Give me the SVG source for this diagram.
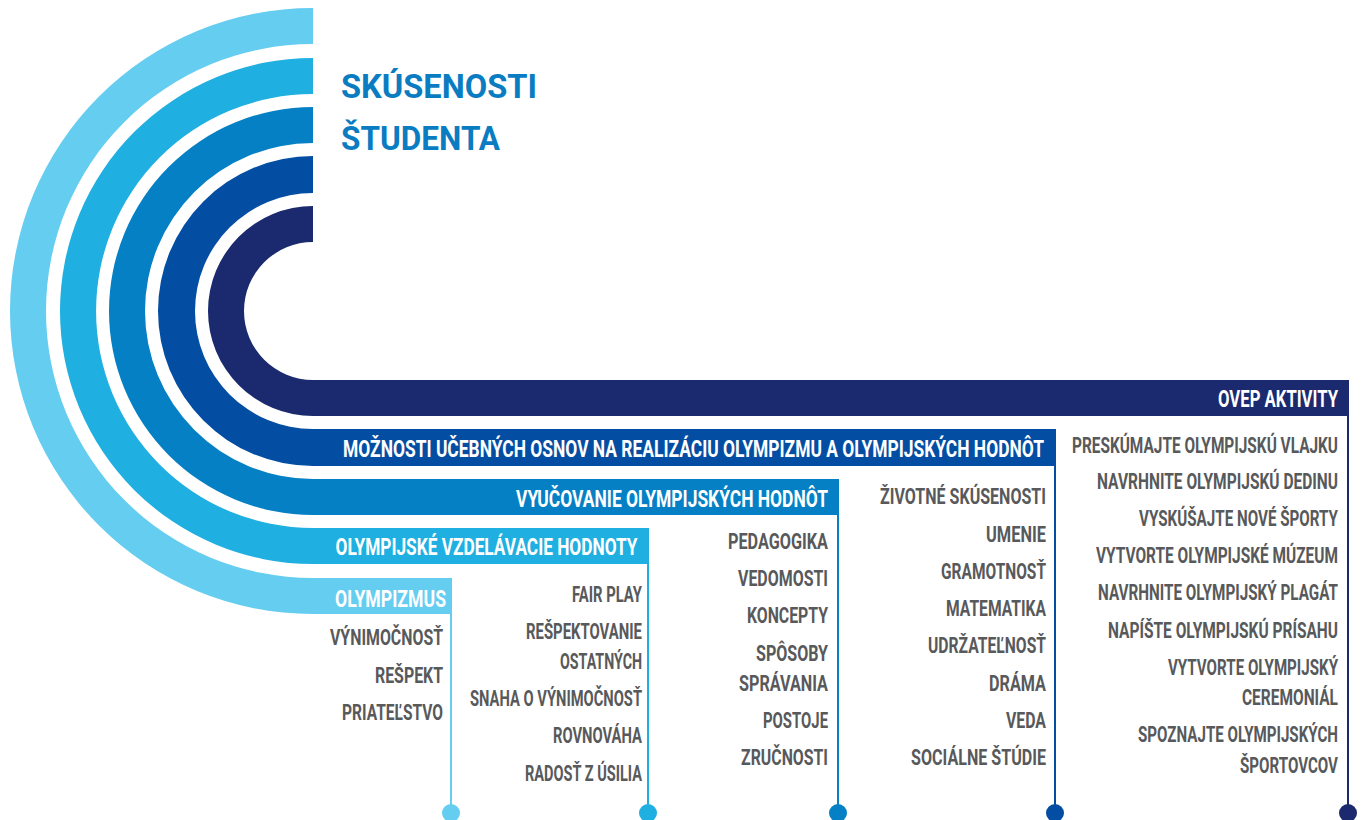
<svg xmlns="http://www.w3.org/2000/svg" width="1362" height="820" viewBox="0 0 1362 820">
  <style>
    .lbl { font-family: Roboto, "Liberation Sans", sans-serif; font-weight: 700; font-size: 23.5px; fill: #ffffff; text-anchor: end; }
    .item { font-family: Roboto, "Liberation Sans", sans-serif; font-weight: 700; font-size: 21.5px; fill: #58595b; text-anchor: end; }
    .title { font-family: Roboto, "Liberation Sans", sans-serif; font-weight: 700; font-size: 33px; fill: #0a7cc1; }
    .c1 { fill: #64cdf0; } .c2 { fill: #1fafe0; } .c3 { fill: #0580c4; } .c4 { fill: #034ea2; } .c5 { fill: #1b2a6e; }
    .s1 { stroke: #64cdf0; } .s2 { stroke: #1fafe0; } .s3 { stroke: #0580c4; } .s4 { stroke: #034ea2; } .s5 { stroke: #1b2a6e; }
    .conn line { stroke-width: 2; }
  </style>

  <!-- title -->
  <g id="title">
    <text class="title" x="341" y="98" textLength="196" lengthAdjust="spacingAndGlyphs">SKÚSENOSTI</text>
    <text class="title" x="341" y="150" textLength="159" lengthAdjust="spacingAndGlyphs">ŠTUDENTA</text>
  </g>

  <!-- drop lines and end dots, one per band -->
  <g id="connectors" class="conn">
    <line class="s1" x1="451" y1="612" x2="451" y2="813"/>
    <circle class="c1" cx="451" cy="813" r="9"/>
    <line class="s2" x1="648" y1="562" x2="648" y2="813"/>
    <circle class="c2" cx="648" cy="813" r="9"/>
    <line class="s3" x1="838" y1="513" x2="838" y2="813"/>
    <circle class="c3" cx="838" cy="813" r="9"/>
    <line class="s4" x1="1055" y1="464" x2="1055" y2="813"/>
    <circle class="c4" cx="1055" cy="813" r="9"/>
    <line class="s5" x1="1348" y1="414" x2="1348" y2="813"/>
    <circle class="c5" cx="1348" cy="813" r="9"/>
  </g>

  <!-- band 1: olympism -->
  <g id="olympizmus">
    <path class="c1" d="M313 8 A303 303 0 0 0 313 614 H452 V578 H313 A267 267 0 0 1 313 44 Z"/>
    <text class="lbl" x="446" y="607" textLength="111" lengthAdjust="spacingAndGlyphs">OLYMPIZMUS</text>
    <text class="item" x="443" y="645" textLength="113" lengthAdjust="spacingAndGlyphs">VÝNIMOČNOSŤ</text>
    <text class="item" x="443" y="682.5" textLength="68" lengthAdjust="spacingAndGlyphs">REŠPEKT</text>
    <text class="item" x="443" y="720" textLength="101" lengthAdjust="spacingAndGlyphs">PRIATEĽSTVO</text>
  </g>

  <!-- band 2: olympic education values -->
  <g id="vzdelavacie-hodnoty">
    <path class="c2" d="M313 58 A253 253 0 0 0 313 564 H649 V528 H313 A217 217 0 0 1 313 94 Z"/>
    <text class="lbl" x="637.5" y="555" textLength="302" lengthAdjust="spacingAndGlyphs">OLYMPIJSKÉ VZDELÁVACIE HODNOTY</text>
    <text class="item" x="642" y="602" textLength="70" lengthAdjust="spacingAndGlyphs">FAIR PLAY</text>
    <text class="item" x="642" y="638.5" textLength="116" lengthAdjust="spacingAndGlyphs">REŠPEKTOVANIE</text>
    <text class="item" x="642" y="668.5" textLength="82" lengthAdjust="spacingAndGlyphs">OSTATNÝCH</text>
    <text class="item" x="642" y="706" textLength="172" lengthAdjust="spacingAndGlyphs">SNAHA O VÝNIMOČNOSŤ</text>
    <text class="item" x="642" y="743" textLength="89" lengthAdjust="spacingAndGlyphs">ROVNOVÁHA</text>
    <text class="item" x="642" y="781" textLength="117" lengthAdjust="spacingAndGlyphs">RADOSŤ Z ÚSILIA</text>
  </g>

  <!-- band 3: teaching olympic values -->
  <g id="vyucovanie">
    <path class="c3" d="M313 107 A204 204 0 0 0 313 515 H839 V479 H313 A168 168 0 0 1 313 143 Z"/>
    <text class="lbl" x="828" y="506.5" textLength="312" lengthAdjust="spacingAndGlyphs">VYUČOVANIE OLYMPIJSKÝCH HODNÔT</text>
    <text class="item" x="828" y="549" textLength="100" lengthAdjust="spacingAndGlyphs">PEDAGOGIKA</text>
    <text class="item" x="828" y="586" textLength="90" lengthAdjust="spacingAndGlyphs">VEDOMOSTI</text>
    <text class="item" x="828" y="623" textLength="81" lengthAdjust="spacingAndGlyphs">KONCEPTY</text>
    <text class="item" x="828" y="660.5" textLength="72" lengthAdjust="spacingAndGlyphs">SPÔSOBY</text>
    <text class="item" x="828" y="690.5" textLength="89" lengthAdjust="spacingAndGlyphs">SPRÁVANIA</text>
    <text class="item" x="828" y="728" textLength="65" lengthAdjust="spacingAndGlyphs">POSTOJE</text>
    <text class="item" x="828" y="765" textLength="87" lengthAdjust="spacingAndGlyphs">ZRUČNOSTI</text>
  </g>

  <!-- band 4: curriculum opportunities -->
  <g id="moznosti-osnov">
    <path class="c4" d="M313 156 A155 155 0 0 0 313 466 H1056 V429 H313 A118 118 0 0 1 313 193 Z"/>
    <text class="lbl" x="1044" y="457" textLength="701" lengthAdjust="spacingAndGlyphs">MOŽNOSTI UČEBNÝCH OSNOV NA REALIZÁCIU OLYMPIZMU A OLYMPIJSKÝCH HODNÔT</text>
    <text class="item" x="1046" y="504" textLength="166" lengthAdjust="spacingAndGlyphs">ŽIVOTNÉ SKÚSENOSTI</text>
    <text class="item" x="1046" y="541.5" textLength="60" lengthAdjust="spacingAndGlyphs">UMENIE</text>
    <text class="item" x="1046" y="579" textLength="105" lengthAdjust="spacingAndGlyphs">GRAMOTNOSŤ</text>
    <text class="item" x="1046" y="616" textLength="100" lengthAdjust="spacingAndGlyphs">MATEMATIKA</text>
    <text class="item" x="1046" y="653" textLength="118" lengthAdjust="spacingAndGlyphs">UDRŽATEĽNOSŤ</text>
    <text class="item" x="1046" y="690.5" textLength="57" lengthAdjust="spacingAndGlyphs">DRÁMA</text>
    <text class="item" x="1046" y="728" textLength="40" lengthAdjust="spacingAndGlyphs">VEDA</text>
    <text class="item" x="1046" y="765" textLength="135" lengthAdjust="spacingAndGlyphs">SOCIÁLNE ŠTÚDIE</text>
  </g>

  <!-- band 5: OVEP activities -->
  <g id="ovep-aktivity">
    <path class="c5" d="M313 206 A105 105 0 0 0 313 416 H1349 V380 H313 A69 69 0 0 1 313 242 Z"/>
    <text class="lbl" x="1338" y="406.5" textLength="120" lengthAdjust="spacingAndGlyphs">OVEP AKTIVITY</text>
    <text class="item" x="1338" y="452.5" textLength="266" lengthAdjust="spacingAndGlyphs">PRESKÚMAJTE OLYMPIJSKÚ VLAJKU</text>
    <text class="item" x="1338" y="489" textLength="241" lengthAdjust="spacingAndGlyphs">NAVRHNITE OLYMPIJSKÚ DEDINU</text>
    <text class="item" x="1338" y="525.5" textLength="199" lengthAdjust="spacingAndGlyphs">VYSKÚŠAJTE NOVÉ ŠPORTY</text>
    <text class="item" x="1338" y="563" textLength="242" lengthAdjust="spacingAndGlyphs">VYTVORTE OLYMPIJSKÉ MÚZEUM</text>
    <text class="item" x="1338" y="600" textLength="240" lengthAdjust="spacingAndGlyphs">NAVRHNITE OLYMPIJSKÝ PLAGÁT</text>
    <text class="item" x="1338" y="637.5" textLength="230" lengthAdjust="spacingAndGlyphs">NAPÍŠTE OLYMPIJSKÚ PRÍSAHU</text>
    <text class="item" x="1338" y="675" textLength="170" lengthAdjust="spacingAndGlyphs">VYTVORTE OLYMPIJSKÝ</text>
    <text class="item" x="1338" y="705" textLength="96" lengthAdjust="spacingAndGlyphs">CEREMONIÁL</text>
    <text class="item" x="1338" y="742" textLength="200" lengthAdjust="spacingAndGlyphs">SPOZNAJTE OLYMPIJSKÝCH</text>
    <text class="item" x="1338" y="773" textLength="98" lengthAdjust="spacingAndGlyphs">ŠPORTOVCOV</text>
  </g>
</svg>
